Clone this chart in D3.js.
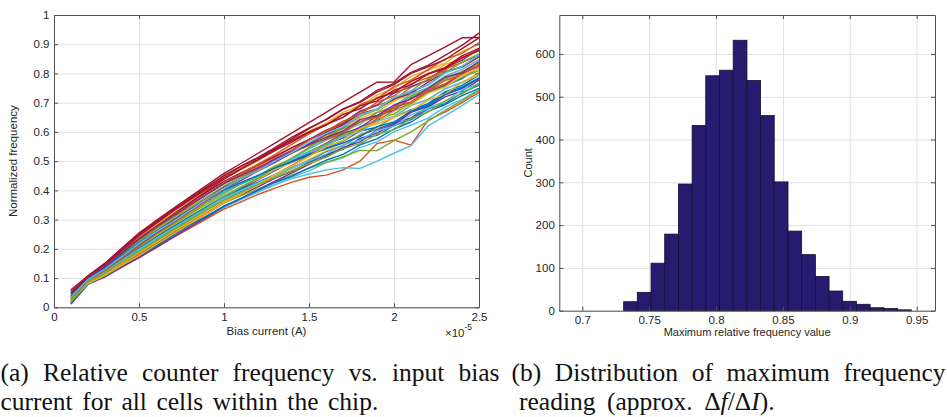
<!DOCTYPE html>
<html>
<head>
<meta charset="utf-8">
<script src="https://cdn.jsdelivr.net/npm/d3@7"></script>
<style>
  body { margin: 0; background: #fff; }
  svg { display: block; }
  .tickText, .axisLabel { font-family: "Liberation Sans", Arial, sans-serif; fill: #262626; }
  .caption { font-family: "Liberation Serif", "Times New Roman", serif; font-size: 25.5px; fill: #111; }
</style>
</head>
<body>
<svg width="947" height="417"></svg>
<script>
/* global d3 */

// bias current (x 1e-5 A), one reading every 0.1
var biasCurrent = [ 0.1, 0.2, 0.3, 0.4, 0.5, 0.6, 0.7, 0.8, 0.9, 1.0, 1.1, 1.2, 1.3,
  1.4, 1.5, 1.6, 1.7, 1.8, 1.9, 2.0, 2.1, 2.2, 2.3, 2.4, 2.5 ];

// normalized frequency of a sample of cells
var cellCurves = [
  [ .026,.089,.121,.159,.197,.235,.272,.307,.343,.377,.407,.438,.468,.498,.528,.558,.579,.617,.638,.673,.697,.737,.758,.782,.819 ],
  [ .052,.101,.139,.187,.233,.273,.313,.351,.388,.425,.455,.484,.514,.546,.574,.605,.628,.669,.690,.710,.753,.776,.816,.837,.863 ],
  [ .057,.106,.147,.197,.247,.288,.330,.369,.407,.445,.478,.507,.542,.571,.603,.630,.667,.689,.726,.749,.790,.811,.835,.875,.901 ],
  [ .016,.083,.110,.147,.181,.218,.252,.286,.321,.357,.384,.412,.442,.465,.496,.522,.541,.578,.596,.628,.648,.685,.720,.740,.777 ],
  [ .036,.092,.124,.166,.206,.243,.282,.319,.353,.390,.421,.448,.483,.509,.543,.572,.594,.634,.654,.688,.724,.743,.781,.803,.836 ],
  [ .014,.080,.106,.140,.172,.206,.242,.275,.307,.341,.368,.394,.419,.445,.467,.494,.511,.546,.566,.600,.623,.647,.685,.711,.745 ],
  [ .060,.108,.151,.203,.254,.297,.338,.378,.418,.458,.492,.527,.562,.597,.632,.667,.702,.736,.770,.771,.830,.860,.890,.922,.923 ],
  [ .042,.095,.130,.172,.216,.254,.290,.327,.362,.397,.424,.450,.477,.500,.525,.545,.568,.603,.616,.651,.675,.697,.737,.759,.794 ],
  [ .020,.079,.105,.137,.170,.203,.238,.271,.303,.336,.361,.386,.408,.428,.445,.452,.470,.500,.560,.572,.555,.640,.668,.700,.735 ],
  [ .047,.098,.134,.178,.223,.264,.300,.337,.373,.413,.442,.469,.501,.528,.557,.588,.609,.648,.668,.706,.728,.751,.791,.814,.848 ],
  [ .031,.087,.118,.155,.193,.232,.267,.302,.339,.376,.406,.436,.469,.500,.532,.561,.594,.615,.654,.675,.716,.737,.760,.799,.825 ],
  [ .021,.084,.114,.149,.184,.221,.257,.291,.323,.357,.382,.405,.430,.453,.475,.496,.515,.537,.536,.570,.600,.637,.674,.707,.741 ],
  [ .012,.081,.108,.143,.176,.212,.246,.280,.313,.346,.371,.396,.420,.440,.456,.470,.478,.475,.500,.527,.553,.620,.655,.690,.728 ],
  [ .059,.104,.144,.193,.239,.282,.319,.357,.395,.431,.460,.488,.517,.546,.574,.598,.624,.662,.678,.712,.732,.770,.806,.822,.857 ],
  [ .019,.086,.116,.152,.189,.226,.263,.296,.331,.367,.396,.421,.452,.479,.503,.533,.553,.589,.610,.630,.671,.693,.733,.753,.785 ],
  [ .044,.099,.137,.184,.228,.270,.307,.348,.387,.424,.457,.490,.522,.558,.593,.625,.650,.693,.714,.755,.777,.813,.849,.869,.905 ],
  [ .029,.090,.123,.162,.201,.240,.276,.314,.348,.383,.412,.438,.471,.495,.520,.551,.570,.609,.628,.649,.691,.712,.747,.768,.804 ],
  [ .049,.096,.132,.177,.218,.259,.298,.335,.374,.411,.443,.474,.509,.538,.574,.605,.630,.671,.692,.733,.755,.778,.820,.845,.884 ],
  [ .039,.093,.127,.169,.212,.249,.286,.321,.360,.395,.423,.450,.483,.506,.533,.558,.590,.609,.644,.661,.699,.734,.754,.787,.810 ],
  [ .024,.088,.120,.159,.198,.235,.273,.310,.344,.382,.412,.444,.477,.509,.542,.572,.605,.626,.666,.688,.730,.751,.791,.814,.846 ],
  [ .054,.107,.148,.200,.250,.292,.333,.372,.410,.451,.483,.513,.546,.582,.613,.641,.677,.701,.736,.762,.800,.823,.847,.885,.922 ],
  [ .034,.091,.124,.164,.202,.239,.275,.310,.344,.378,.404,.428,.454,.476,.501,.522,.541,.576,.588,.622,.642,.679,.697,.734,.760 ],
  [ .021,.082,.110,.144,.180,.214,.251,.287,.322,.359,.389,.421,.454,.486,.520,.552,.585,.603,.646,.682,.701,.743,.764,.806,.827 ],
  [ .042,.102,.142,.191,.239,.281,.321,.361,.401,.441,.471,.501,.538,.566,.598,.623,.660,.681,.718,.737,.775,.794,.830,.852,.888 ],
  [ .011,.079,.104,.138,.170,.205,.240,.275,.309,.345,.373,.401,.432,.460,.489,.517,.547,.566,.606,.624,.667,.687,.729,.749,.783 ],
  [ .047,.098,.136,.182,.226,.267,.306,.342,.379,.415,.444,.471,.500,.528,.555,.579,.613,.632,.666,.684,.722,.745,.785,.806,.838 ],
  [ .052,.097,.132,.174,.218,.255,.291,.328,.363,.397,.425,.451,.478,.505,.530,.552,.585,.601,.636,.653,.691,.710,.747,.770,.796 ],
  [ .036,.100,.138,.186,.234,.276,.317,.358,.398,.438,.473,.505,.541,.576,.611,.643,.679,.704,.742,.766,.804,.828,.862,.896,.938 ],
  [ .014,.080,.108,.143,.176,.209,.246,.282,.313,.346,.373,.400,.427,.449,.477,.503,.523,.556,.576,.610,.634,.670,.693,.724,.749 ],
  [ .057,.104,.143,.191,.237,.276,.314,.351,.387,.423,.450,.475,.503,.528,.554,.575,.598,.636,.650,.686,.703,.741,.776,.795,.831 ],
  [ .031,.085,.114,.151,.187,.222,.260,.294,.330,.364,.392,.421,.448,.476,.506,.535,.555,.593,.612,.651,.673,.708,.729,.770,.794 ],
  [ .044,.094,.128,.172,.214,.252,.291,.330,.368,.403,.434,.466,.496,.528,.560,.591,.615,.656,.676,.716,.738,.761,.803,.824,.859 ],
  [ .026,.086,.117,.156,.194,.230,.268,.305,.340,.378,.410,.442,.477,.511,.547,.581,.617,.654,.676,.716,.740,.782,.803,.839,.867 ],
  [ .042,.089,.121,.161,.198,.236,.271,.306,.339,.373,.400,.426,.451,.478,.501,.524,.555,.572,.604,.620,.658,.681,.704,.743,.766 ],
  [ .049,.105,.146,.195,.245,.287,.328,.367,.405,.443,.474,.504,.536,.566,.598,.623,.660,.679,.716,.735,.773,.799,.820,.860,.886 ],
  [ .039,.097,.134,.179,.221,.260,.295,.331,.366,.401,.427,.451,.477,.498,.521,.542,.562,.584,.618,.634,.671,.689,.727,.749,.783 ],
  [ .029,.092,.126,.168,.210,.250,.288,.328,.366,.405,.437,.469,.503,.536,.571,.602,.637,.660,.702,.723,.765,.786,.810,.852,.878 ],
  [ .021,.081,.109,.144,.177,.214,.250,.286,.321,.358,.388,.420,.454,.484,.516,.549,.570,.611,.632,.671,.693,.732,.754,.793,.817 ],
  [ .057,.101,.140,.189,.234,.275,.312,.350,.387,.423,.451,.478,.506,.532,.557,.581,.603,.642,.656,.692,.712,.749,.787,.803,.840 ],
  [ .019,.087,.118,.156,.192,.228,.265,.302,.334,.367,.393,.419,.445,.468,.492,.513,.543,.560,.592,.608,.646,.668,.706,.730,.766 ],
  [ .034,.095,.131,.174,.218,.258,.293,.332,.371,.407,.439,.467,.501,.530,.564,.595,.618,.658,.678,.719,.740,.761,.801,.824,.863 ],
  [ .047,.107,.149,.201,.251,.293,.334,.373,.412,.450,.482,.511,.541,.571,.600,.625,.650,.689,.706,.743,.761,.799,.816,.854,.878 ]
];

var lineColors = [ "#0072BD", "#D95319", "#EDB120", "#7E2F8E", "#77AC30", "#4DBEEE", "#A2142F" ];

var biasTicks = [ 0, 0.5, 1, 1.5, 2, 2.5 ];
var freqTicks = [ 0, 0.1, 0.2, 0.3, 0.4, 0.5, 0.6, 0.7, 0.8, 0.9, 1 ];

// histogram of maximum relative frequency
var binEdges = [ 0.7309, 0.7411, 0.7514, 0.7616, 0.7719, 0.7821, 0.7923, 0.8026, 0.8128, 0.8231, 0.8333,
  0.8435, 0.8538, 0.8640, 0.8743, 0.8845, 0.8947, 0.9050, 0.9152, 0.9255, 0.9357, 0.9460 ];
var binCounts = [ 21, 43, 111, 179, 296, 433, 549, 562, 632, 538, 456, 301, 186, 131, 80, 46, 22, 15, 7, 5, 2 ];

var maxTicks = [ 0.7, 0.75, 0.8, 0.85, 0.9, 0.95 ];
var countTicks = [ 0, 100, 200, 300, 400, 500, 600 ];

var captionA = [ "(a) Relative counter frequency vs. input bias", "current for all cells within the chip." ];
var captionB = [ "(b) Distribution of maximum frequency", "reading (approx. Δ<i>f</i>/Δ<i>I</i>)." ];

var svg = d3.select( "svg" );

function drawFrame( g, x, y, xTicks, yTicks, fmtX, fmtY ) {

  var w = x.range()[ 1 ] - x.range()[ 0 ],
    h = y.range()[ 0 ] - y.range()[ 1 ];

  // grid
  g.append( "g" )
    .attr( "transform", "translate(0," + h + ")" )
    .call( d3.axisBottom( x ).tickValues( xTicks ).tickSize( -h ).tickFormat( "" ) )
    .call( a => a.select( ".domain" ).remove() )
    .call( a => a.selectAll( "line" ).attr( "stroke", "#e1e1e1" ) );

  g.append( "g" )
    .call( d3.axisLeft( y ).tickValues( yTicks ).tickSize( -w ).tickFormat( "" ) )
    .call( a => a.select( ".domain" ).remove() )
    .call( a => a.selectAll( "line" ).attr( "stroke", "#e1e1e1" ) );

  return function() {

    var bottom = g.append( "g" )
      .attr( "transform", "translate(0," + h + ")" )
      .call( d3.axisBottom( x ).tickValues( xTicks ).tickSizeInner( -4 ).tickSizeOuter( 0 ).tickPadding( 5.5 ).tickFormat( fmtX ) );

    var left = g.append( "g" )
      .call( d3.axisLeft( y ).tickValues( yTicks ).tickSizeInner( -4 ).tickSizeOuter( 0 ).tickPadding( 4.5 ).tickFormat( fmtY ) );

    var top = g.append( "g" )
      .call( d3.axisTop( x ).tickValues( xTicks ).tickSizeInner( -4 ).tickSizeOuter( 0 ).tickFormat( "" ) );

    var right = g.append( "g" )
      .attr( "transform", "translate(" + w + ",0)" )
      .call( d3.axisRight( y ).tickValues( yTicks ).tickSizeInner( -4 ).tickSizeOuter( 0 ).tickFormat( "" ) );

    [ bottom, left, top, right ].forEach( a => {
      a.select( ".domain" ).attr( "stroke", "#505050" );
      a.selectAll( "line" ).attr( "stroke", "#505050" );
      a.selectAll( "text" )
        .attr( "class", "tickText" )
        .attr( "fill", null )
        .style( "font-size", "11.5px" );
    } );

  };

}

// Left panel: frequency vs bias current

var leftG = svg.append( "g" ).attr( "transform", "translate(54,15)" );

var biasScale = d3.scaleLinear().domain( [ 0, 2.5 ] ).range( [ 0, 425 ] );
var freqScale = d3.scaleLinear().domain( [ 0, 1 ] ).range( [ 292.3, 0 ] );

var finishLeft = drawFrame( leftG, biasScale, freqScale, biasTicks, freqTicks,
  d => String( d ), d => String( +d.toFixed( 1 ) ) );

var curveLine = d3.line()
  .x( ( d, i ) => biasScale( biasCurrent[ i ] ) )
  .y( d => freqScale( d ) );

leftG.append( "g" )
  .selectAll( "path" )
  .data( cellCurves )
  .enter().append( "path" )
    .attr( "d", curveLine )
    .attr( "fill", "none" )
    .attr( "stroke", ( d, i ) => lineColors[ i % lineColors.length ] )
    .attr( "stroke-width", 1.4 )
    .attr( "stroke-linejoin", "round" );

finishLeft();

leftG.append( "text" )
  .attr( "class", "axisLabel" )
  .attr( "transform", "translate(-37," + ( 292.3 / 2 ) + ") rotate(-90)" )
  .attr( "text-anchor", "middle" )
  .style( "font-size", "11.5px" )
  .text( "Normalized frequency" );

leftG.append( "text" )
  .attr( "class", "axisLabel" )
  .attr( "x", 212.5 )
  .attr( "y", 319.5 )
  .attr( "text-anchor", "middle" )
  .style( "font-size", "11.5px" )
  .text( "Bias current (A)" );

var expo = leftG.append( "text" )
  .attr( "class", "axisLabel" )
  .attr( "x", 391 )
  .attr( "y", 321.5 )
  .style( "font-size", "11.5px" )
  .text( "×10" );

expo.append( "tspan" )
  .attr( "dy", -7 )
  .style( "font-size", "8.5px" )
  .text( "-5" );

// Right panel: histogram

var rightG = svg.append( "g" ).attr( "transform", "translate(559.3,15)" );

var maxScale = d3.scaleLinear().domain( [ 0.6828, 0.9637 ] ).range( [ 0, 375.7 ] );
var countScale = d3.scaleLinear().domain( [ 0, 691 ] ).range( [ 295.7, 0 ] );

var finishRight = drawFrame( rightG, maxScale, countScale, maxTicks, countTicks,
  d => String( +d.toFixed( 2 ) ), d => String( d ) );

rightG.append( "g" )
  .selectAll( "rect" )
  .data( binCounts )
  .enter().append( "rect" )
    .attr( "x", ( d, i ) => maxScale( binEdges[ i ] ) )
    .attr( "width", ( d, i ) => maxScale( binEdges[ i + 1 ] ) - maxScale( binEdges[ i ] ) )
    .attr( "y", d => countScale( d ) )
    .attr( "height", d => countScale( 0 ) - countScale( d ) )
    .attr( "fill", "#261b6e" )
    .attr( "stroke", "#141033" )
    .attr( "stroke-width", 0.8 );

finishRight();

rightG.append( "text" )
  .attr( "class", "axisLabel" )
  .attr( "transform", "translate(-27," + ( 295.7 / 2 ) + ") rotate(-90)" )
  .attr( "text-anchor", "middle" )
  .style( "font-size", "11px" )
  .text( "Count" );

rightG.append( "text" )
  .attr( "class", "axisLabel" )
  .attr( "x", 187.8 )
  .attr( "y", 321 )
  .attr( "text-anchor", "middle" )
  .style( "font-size", "11px" )
  .text( "Maximum relative frequency value" );

// Captions

function captionWord( g, word, y ) {
  var t = g.append( "text" ).attr( "class", "caption" ).attr( "y", y );
  word.split( /(<i>.*?<\/i>)/ ).filter( s => s.length ).forEach( s => {
    var it = s.startsWith( "<i>" );
    t.append( "tspan" )
      .style( "font-style", it ? "italic" : null )
      .text( it ? s.slice( 3, -4 ) : s );
  } );
  return t;
}

function captionLine( text, x0, x1, y, justify, space ) {
  var g = svg.append( "g" );
  var words = text.split( " " ).map( w => captionWord( g, w, y ) );
  var widths = words.map( t => t.node().getComputedTextLength() );
  var gap = justify ? ( x1 - x0 - d3.sum( widths ) ) / ( words.length - 1 ) : space;
  var x = x0;
  words.forEach( ( t, i ) => {
    t.attr( "x", x );
    x += widths[ i ] + gap;
  } );
}

captionLine( captionA[ 0 ], 0.5, 499.5, 381, true );
captionLine( captionA[ 1 ], 0.5, 499.5, 409.5, false, 9.5 );
captionLine( captionB[ 0 ], 511.5, 945.5, 381, true );
captionLine( captionB[ 1 ], 519, 945.5, 409.5, false, 11.5 );
</script>
</body>
</html>
